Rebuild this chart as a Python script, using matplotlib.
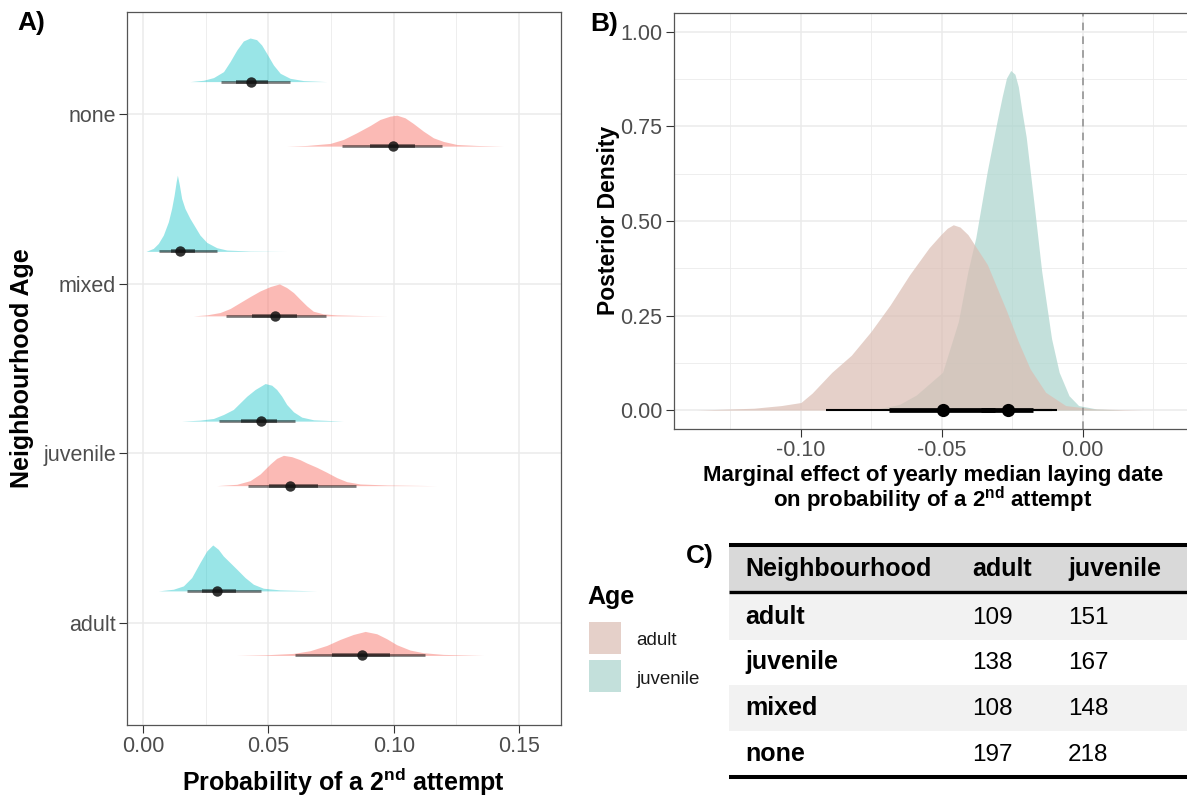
import numpy as np
import matplotlib.pyplot as plt
from matplotlib.patches import Rectangle
from matplotlib.ticker import FixedLocator, NullLocator

plt.rcParams['font.family'] = ['Liberation Sans', 'DejaVu Sans']
plt.rcParams['mathtext.fontset'] = 'custom'
plt.rcParams['mathtext.rm'] = 'Liberation Sans'
plt.rcParams['mathtext.bf'] = 'Liberation Sans:bold'

# ---------------- panel A: posterior of P(2nd attempt) per neighbourhood ----------------
HOODS = ['adult', 'juvenile', 'mixed', 'none']

# slab outlines (x = probability, d = relative density)
NONE_JUV_X = [0.0187, 0.0241, 0.0281, 0.0321, 0.0347, 0.0374, 0.0400, 0.0427, 0.0453,
              0.0473, 0.0493, 0.0520, 0.0547, 0.0586, 0.0640, 0.0733]
NONE_JUV_D = [0, 4, 12, 30, 60, 95, 122, 131, 126, 110, 85, 50, 25, 10, 3, 0]
NONE_ADU_X = [0.0573, 0.0653, 0.0746, 0.0799, 0.0852, 0.0906, 0.0945, 0.0985, 0.1012,
              0.1045, 0.1078, 0.1118, 0.1158, 0.1198, 0.1251, 0.1331, 0.1437]
NONE_ADU_D = [0, 2, 8, 20, 40, 62, 80, 90, 93, 85, 68, 45, 25, 14, 5, 2, 0]

MIXED_JUV_X = [0.0012, 0.0041, 0.0061, 0.0081, 0.0101, 0.0114, 0.0124, 0.0132, 0.0137,
               0.0145, 0.0154, 0.0167, 0.0187, 0.0207, 0.0227, 0.0254, 0.0294, 0.0334,
               0.0427, 0.0573]
MIXED_JUV_D = [0, 9, 24, 49, 89, 129, 169, 209, 229, 199, 159, 129, 99, 74, 49, 27, 11, 4, 1, 0]
MIXED_ADU_X = [0.0201, 0.0254, 0.0307, 0.0347, 0.0387, 0.0427, 0.0467, 0.0507, 0.0544,
               0.0573, 0.0600, 0.0626, 0.0653, 0.0679, 0.0719, 0.0772, 0.0879, 0.0972]
MIXED_ADU_D = [0, 3, 10, 22, 40, 58, 75, 88, 96, 85, 70, 50, 30, 14, 6, 3, 1, 0]

JUV_JUV_X = [0.0154, 0.0227, 0.0281, 0.0321, 0.0360, 0.0387, 0.0414, 0.0447, 0.0487,
             0.0513, 0.0533, 0.0553, 0.0573, 0.0600, 0.0633, 0.0680, 0.0799]
JUV_JUV_D = [0, 3, 8, 20, 35, 55, 75, 95, 113, 108, 95, 75, 50, 28, 12, 4, 0]
JUV_ADU_X = [0.0294, 0.0374, 0.0427, 0.0467, 0.0507, 0.0533, 0.0560, 0.0593, 0.0626,
             0.0653, 0.0693, 0.0733, 0.0773, 0.0812, 0.0866, 0.0972, 0.1171]
JUV_ADU_D = [0, 4, 15, 35, 65, 82, 91, 87, 78, 68, 55, 40, 24, 12, 5, 2, 0]

ADU_JUV_X = [0.0061, 0.0121, 0.0161, 0.0194, 0.0227, 0.0254, 0.0278, 0.0300, 0.0320,
             0.0347, 0.0374, 0.0407, 0.0440, 0.0480, 0.0546, 0.0693]
ADU_JUV_D = [0, 5, 15, 40, 85, 120, 138, 125, 105, 85, 65, 40, 20, 8, 3, 0]
ADU_ADU_X = [0.0374, 0.0493, 0.0600, 0.0666, 0.0733, 0.0786, 0.0839, 0.0886, 0.0932,
             0.0972, 0.1012, 0.1065, 0.1118, 0.1198, 0.1358]
ADU_ADU_D = [0, 2, 6, 14, 30, 48, 63, 72, 65, 50, 32, 16, 8, 3, 0]

# intervals: lower95, lower66, median, upper66, upper95
NONE_JUV_IV = [0.0310, 0.0371, 0.0429, 0.0497, 0.0586]
NONE_ADU_IV = [0.0793, 0.0906, 0.0996, 0.1085, 0.1194]
MIXED_JUV_IV = [0.0065, 0.0110, 0.0148, 0.0207, 0.0294]
MIXED_ADU_IV = [0.0330, 0.0433, 0.0527, 0.0616, 0.0730]
JUV_JUV_IV = [0.0301, 0.0391, 0.0471, 0.0536, 0.0606]
JUV_ADU_IV = [0.0420, 0.0504, 0.0586, 0.0699, 0.0850]
ADU_JUV_IV = [0.0174, 0.0234, 0.0294, 0.0370, 0.0469]
ADU_ADU_IV = [0.0606, 0.0753, 0.0875, 0.0985, 0.1125]

A_X_TICKS = [0.00, 0.05, 0.10, 0.15]
A_X_LABELS = ['0.00', '0.05', '0.10', '0.15']

# ---------------- panel B: marginal effect of laying date ----------------
B_ADU_X = [-0.137, -0.1166, -0.1069, -0.1000, -0.0960, -0.0890, -0.0821, -0.0752, -0.0683,
           -0.0614, -0.0545, -0.0503, -0.0480, -0.0459, -0.0435, -0.0407, -0.0338, -0.0269,
           -0.0228, -0.0186, -0.0131, -0.0060, 0.0040, 0.0214]
B_ADU_D = [0.0, 0.005, 0.012, 0.020, 0.045, 0.100, 0.145, 0.207, 0.278, 0.358, 0.429, 0.464,
           0.481, 0.490, 0.484, 0.464, 0.385, 0.261, 0.181, 0.109, 0.047, 0.012, 0.003, 0.0]
B_JUV_X = [-0.080, -0.072, -0.065, -0.0590, -0.0497, -0.0441, -0.0407, -0.0379, -0.0338,
           -0.0303, -0.0285, -0.0270, -0.0255, -0.0240, -0.0228, -0.0215, -0.0200, -0.0172,
           -0.0145, -0.0110, -0.0083, -0.0048, -0.0014, 0.0050, 0.0145]
B_JUV_D = [0.0, 0.004, 0.015, 0.04, 0.10, 0.234, 0.367, 0.456, 0.633, 0.766, 0.830, 0.878,
           0.898, 0.888, 0.855, 0.790, 0.722, 0.544, 0.367, 0.189, 0.10, 0.038, 0.012, 0.003, 0.0]
B_ADU_IV = [-0.0912, -0.0686, -0.0497, -0.0310, -0.0110]
B_JUV_IV = [-0.0465, -0.0360, -0.0265, -0.0175, -0.0092]

B_X_TICKS = [-0.10, -0.05, 0.00]
B_X_LABELS = ['-0.10', '-0.05', '0.00']
B_Y_TICKS = [0.00, 0.25, 0.50, 0.75, 1.00]
B_Y_LABELS = ['0.00', '0.25', '0.50', '0.75', '1.00']

# ---------------- panel C: sample sizes ----------------
TABLE_HEADER = ['Neighbourhood', 'adult', 'juvenile']
TABLE_ROWS = ['adult', 'juvenile', 'mixed', 'none']
N_ADULT = [109, 138, 108, 197]
N_JUVENILE = [151, 167, 148, 218]

A_SLABS = {
    'juvenile': {'none': (NONE_JUV_X, NONE_JUV_D, NONE_JUV_IV),
                 'mixed': (MIXED_JUV_X, MIXED_JUV_D, MIXED_JUV_IV),
                 'juvenile': (JUV_JUV_X, JUV_JUV_D, JUV_JUV_IV),
                 'adult': (ADU_JUV_X, ADU_JUV_D, ADU_JUV_IV)},
    'adult': {'none': (NONE_ADU_X, NONE_ADU_D, NONE_ADU_IV),
              'mixed': (MIXED_ADU_X, MIXED_ADU_D, MIXED_ADU_IV),
              'juvenile': (JUV_ADU_X, JUV_ADU_D, JUV_ADU_IV),
              'adult': (ADU_ADU_X, ADU_ADU_D, ADU_ADU_IV)},
}

A_COLORS = {'adult': ('#F8766D', 0.5), 'juvenile': ('#00BFC4', 0.4)}
B_COLORS = {'adult': '#DBBEB4', 'juvenile': '#ACD5CE'}
B_ALPHA = 0.72

W, H = 1187, 798
fig = plt.figure(figsize=(W / 100, H / 100), dpi=100)


def px_box(left, top, right, bottom):
    return [left / W, 1 - bottom / H, (right - left) / W, (bottom - top) / H]


def style_axes(ax):
    ax.set_facecolor('white')
    for s in ax.spines.values():
        s.set_color('#555555')
        s.set_linewidth(0.9)
    ax.tick_params(which='major', length=6, width=0.8, color='#333333',
                   labelsize=15.5, labelcolor='#4D4D4D', pad=2)
    ax.tick_params(which='minor', length=0)
    ax.grid(which='major', color='#EBEBEB', lw=1.1)
    ax.grid(which='minor', color='#EBEBEB', lw=0.6)
    ax.set_axisbelow(True)


# ---- A
axA = fig.add_axes(px_box(127, 12, 561, 725))
style_axes(axA)
axA.set_xlim(-0.0064, 0.1667)
axA.set_ylim(0.4, 4.6)
axA.set_xticks(A_X_TICKS)
axA.set_xticklabels(A_X_LABELS)
axA.xaxis.set_minor_locator(FixedLocator([0.025, 0.075, 0.125]))
axA.set_yticks(range(1, len(HOODS) + 1))
axA.set_yticklabels(HOODS)
axA.yaxis.set_minor_locator(NullLocator())

dodge = {'adult': -0.19, 'juvenile': 0.19}
slab_scale = 0.449 / 229.0
for i, hood in enumerate(HOODS):
    for age in ('adult', 'juvenile'):
        xs, dens, iv = A_SLABS[age][hood]
        base = i + 1 + dodge[age]
        col, al = A_COLORS[age]
        axA.fill_between(xs, base, base + np.array(dens) * slab_scale,
                         color=col, alpha=al, lw=0, zorder=2)
        axA.plot([iv[0], iv[4]], [base, base], color='black', alpha=0.5, lw=2.0,
                 solid_capstyle='butt', zorder=3)
        axA.plot([iv[1], iv[3]], [base, base], color='black', alpha=0.55, lw=2.6,
                 solid_capstyle='butt', zorder=3)
        axA.plot(iv[2], base, 'o', color='#111111', alpha=0.85, ms=7.5, mew=0, zorder=4)

# ---- B (right border falls just outside the image, as in the original)
axB = fig.add_axes(px_box(673.6, 13, 1189, 429))
style_axes(axB)
axB.set_xlim(-0.1452, 0.0378)
axB.set_ylim(-0.05, 1.05)
axB.set_xticks(B_X_TICKS)
axB.set_xticklabels(B_X_LABELS)
axB.xaxis.set_minor_locator(FixedLocator([-0.125, -0.075, -0.025, 0.025]))
axB.set_yticks(B_Y_TICKS)
axB.set_yticklabels(B_Y_LABELS)
axB.yaxis.set_minor_locator(FixedLocator([0.125, 0.375, 0.625, 0.875]))

axB.fill_between(B_JUV_X, 0, B_JUV_D, color=B_COLORS['juvenile'], alpha=B_ALPHA, lw=0, zorder=2)
axB.fill_between(B_ADU_X, 0, B_ADU_D, color=B_COLORS['adult'], alpha=B_ALPHA, lw=0, zorder=2.1)
axB.axvline(0, color='#8C8C8C', ls=(0, (5, 4)), lw=1.1, zorder=2.5)
for iv in (B_ADU_IV, B_JUV_IV):
    axB.plot([iv[0], iv[4]], [0, 0], color='black', lw=1.5, solid_capstyle='butt', zorder=4)
    axB.plot([iv[1], iv[3]], [0, 0], color='black', lw=3.4, solid_capstyle='butt', zorder=4)
    axB.plot(iv[2], 0, 'o', color='black', ms=9.5, mew=0, zorder=5)

# ---- overlay in pixel coordinates for titles, legend and table
axT = fig.add_axes([0, 0, 1, 1])
axT.set_xlim(0, W)
axT.set_ylim(H, 0)
axT.axis('off')

bold = dict(fontweight='bold', color='black')
axT.text(31, 23, 'A)', fontsize=19, ha='center', va='center', **bold)
axT.text(604, 24, 'B)', fontsize=19, ha='center', va='center', **bold)
axT.text(700, 556, 'C)', fontsize=19, ha='center', va='center', **bold)

axT.text(22, 368, 'Neighbourhood Age', rotation=90, fontsize=18, ha='center', va='center', **bold)
axT.text(343, 791, r'Probability of a 2$^{\mathbf{nd}}$ attempt', fontsize=18,
         ha='center', va='baseline', **bold)
axT.text(608, 220, 'Posterior Density', rotation=90, fontsize=16.5, ha='center', va='center', **bold)
axT.text(933, 481, 'Marginal effect of yearly median laying date', fontsize=16,
         ha='center', va='baseline', **bold)
axT.text(933, 507, r'on probability of a 2$^{\mathbf{nd}}$ attempt', fontsize=16,
         ha='center', va='baseline', **bold)

# legend
axT.text(587, 604, 'Age', fontsize=18, ha='left', va='baseline', **bold)
for k, age in enumerate(('adult', 'juvenile')):
    top = 621.7 + k * 38.3
    axT.add_patch(Rectangle((589.3, top), 32, 32.3, facecolor=B_COLORS[age],
                            alpha=B_ALPHA, lw=0))
    axT.text(636, top + 23.5, age, fontsize=13.5, color='#1A1A1A', ha='left', va='baseline')

# table
tx0, tx1 = 729, W
axT.add_patch(Rectangle((tx0, 546), tx1 - tx0, 45, facecolor='#D9D9D9', lw=0))
row_top0, row_h = 594, 45.7
for i, name in enumerate(TABLE_ROWS):
    top = row_top0 + i * row_h
    if i % 2 == 0:
        axT.add_patch(Rectangle((tx0, top), tx1 - tx0, row_h, facecolor='#F2F2F2', lw=0))
    yb = top + 29.5
    axT.text(745, yb, name, fontsize=18, ha='left', va='baseline', **bold)
    axT.text(972, yb, str(N_ADULT[i]), fontsize=17.5, color='black', ha='left', va='baseline')
    axT.text(1068, yb, str(N_JUVENILE[i]), fontsize=17.5, color='black', ha='left', va='baseline')
for x, lab in zip((745, 972, 1068), TABLE_HEADER):
    axT.text(x, 576, lab, fontsize=18, ha='left', va='baseline', **bold)
axT.plot([tx0, tx1], [545, 545], color='black', lw=2.9, solid_capstyle='butt')
axT.plot([tx0, tx1], [592, 592], color='black', lw=2.4, solid_capstyle='butt')
axT.plot([tx0, tx1], [777, 777], color='black', lw=2.9, solid_capstyle='butt')

fig.savefig('out.png', dpi=100)
